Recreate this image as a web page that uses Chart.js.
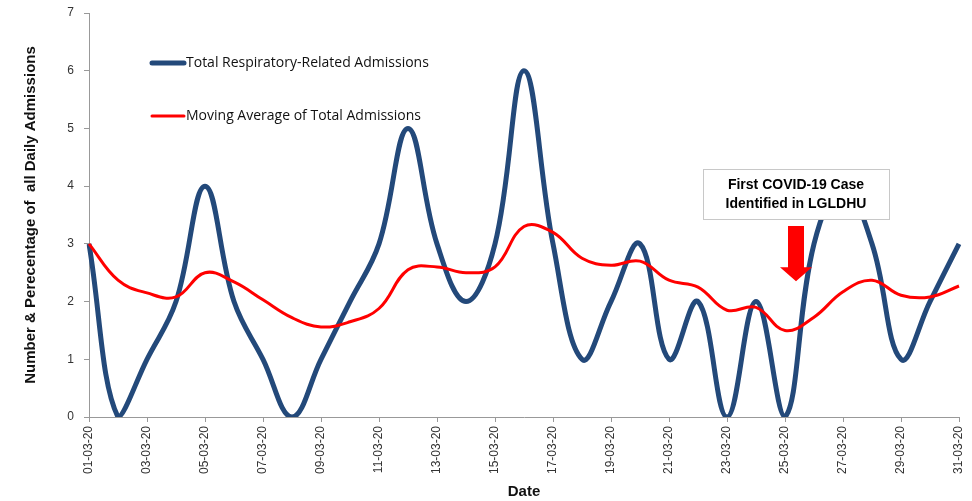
<!DOCTYPE html>
<html>
<head>
<meta charset="utf-8">
<script src="https://cdn.jsdelivr.net/npm/chart.js@4"></script>
<style>
  body { margin: 0; background: #fff; }
  #wrap { width: 972px; height: 501px; }
</style>
</head>
<body>
<div id="wrap"><canvas id="admissionsChart"></canvas></div>
<script>
// Datos del gráfico
const dates = [
    '01-03-20', '02-03-20', '03-03-20', '04-03-20', '05-03-20', '06-03-20', '07-03-20', '08-03-20',
    '09-03-20', '10-03-20', '11-03-20', '12-03-20', '13-03-20', '14-03-20', '15-03-20', '16-03-20',
    '17-03-20', '18-03-20', '19-03-20', '20-03-20', '21-03-20', '22-03-20', '23-03-20', '24-03-20',
    '25-03-20', '26-03-20', '27-03-20', '28-03-20', '29-03-20', '30-03-20', '31-03-20'
];
const totalAdmissions = [3, 0, 1, 2, 4, 2, 1, 0, 1, 2, 3, 5, 3, 2, 3, 6, 3, 1, 2, 3, 1, 2, 0, 2, 0, 3, 4, 3, 1, 2, 3];
const movingAverage = [3.0, 2.37, 2.15, 2.08, 2.5, 2.34, 2.03, 1.72, 1.56, 1.65, 1.88, 2.55, 2.6, 2.5, 2.6, 3.3,
    3.2, 2.75, 2.63, 2.7, 2.37, 2.25, 1.85, 1.9, 1.5, 1.73, 2.17, 2.37, 2.11, 2.08, 2.27];
const yTicks = [0, 1, 2, 3, 4, 5, 6, 7];
const seriesNames = ['Total Respiratory-Related Admissions', 'Moving Average of Total Admissions'];
const noteLines = ['First COVID-19 Case', 'Identified in LGLDHU'];
const noteDate = '25-03-20';

const blue = '#23497a';
const red = '#ff0000';

// Leyenda dentro del gráfico + nota con flecha
const overlay = {
    id: 'overlay',
    afterDraw(chart) {
        const ctx = chart.ctx;
        const x = chart.scales.x;
        const y = chart.scales.y;
        ctx.save();
        // leyenda
        const colors = [blue, red];
        const widths = [5, 3];
        const rows = [63, 116];
        ctx.font = '14px "Open Sans", "Liberation Sans", sans-serif';
        ctx.textBaseline = 'middle';
        rows.forEach((ry, i) => {
            ctx.strokeStyle = colors[i];
            ctx.lineWidth = widths[i];
            ctx.lineCap = 'round';
            ctx.beginPath();
            ctx.moveTo(152, ry);
            ctx.lineTo(184, ry);
            ctx.stroke();
            ctx.fillStyle = '#111';
            ctx.fillText(seriesNames[i], 186, ry);
        });
        // caja de nota
        const cx = x.getPixelForValue(dates.indexOf(noteDate)) + 11;
        const bx = 703, by = 169, bw = 186, bh = 50;
        ctx.fillStyle = '#fff';
        ctx.fillRect(bx, by, bw, bh);
        ctx.strokeStyle = '#c8c8c8';
        ctx.lineWidth = 1;
        ctx.strokeRect(bx + 0.5, by + 0.5, bw, bh);
        ctx.fillStyle = '#000';
        ctx.font = 'bold 14px "Liberation Sans", sans-serif';
        ctx.textAlign = 'center';
        ctx.fillText(noteLines[0], bx + bw / 2, by + 16);
        ctx.fillText(noteLines[1], bx + bw / 2, by + 35);
        // flecha
        const top = 226, tip = y.getPixelForValue(2.35);
        ctx.fillStyle = red;
        ctx.beginPath();
        ctx.moveTo(cx - 8, top);
        ctx.lineTo(cx + 8, top);
        ctx.lineTo(cx + 8, tip - 14);
        ctx.lineTo(cx + 16, tip - 14);
        ctx.lineTo(cx, tip);
        ctx.lineTo(cx - 16, tip - 14);
        ctx.lineTo(cx - 8, tip - 14);
        ctx.closePath();
        ctx.fill();
        ctx.restore();
    }
};

const admissionsChart = new Chart(document.getElementById('admissionsChart'), {
    type: 'line',
    data: {
        labels: dates,
        datasets: [{
            label: seriesNames[1],
            data: movingAverage,
            borderColor: red,
            borderWidth: 3,
            tension: 0.4,
            pointRadius: 0
        }, {
            label: seriesNames[0],
            data: totalAdmissions,
            borderColor: blue,
            borderWidth: 5,
            tension: 0.4,
            pointRadius: 0
        }]
    },
    options: {
        responsive: true,
        maintainAspectRatio: false,
        animation: false,
        layout: { padding: { top: 13, right: 13, left: 0, bottom: 0 } },
        plugins: {
            legend: { display: false },
            tooltip: { enabled: false }
        },
        scales: {
            x: {
                ticks: {
                    autoSkip: false,
                    minRotation: 90,
                    maxRotation: 90,
                    padding: 4,
                    color: '#333',
                    font: { family: '"Liberation Sans", Arial, sans-serif', size: 12 },
                    callback: (v, i) => i % 2 === 0 ? dates[i] : ''
                },
                grid: {
                    drawOnChartArea: false,
                    tickLength: 5,
                    tickColor: ctx => ctx.index % 2 === 0 ? '#999' : 'rgba(0,0,0,0)'
                },
                border: { color: '#999' },
                title: {
                    display: true,
                    text: 'Date',
                    color: '#111',
                    font: { family: '"Liberation Sans", sans-serif', size: 15, weight: 'bold' },
                    padding: { top: 2, bottom: 0 }
                },
                afterFit: s => { s.height = 84; s.paddingLeft = 0; s.paddingRight = 0; }
            },
            y: {
                min: yTicks[0],
                max: yTicks[yTicks.length - 1],
                ticks: {
                    stepSize: 1,
                    padding: 10,
                    color: '#333',
                    font: { family: '"Liberation Sans", Arial, sans-serif', size: 12 }
                },
                grid: { drawOnChartArea: false, tickLength: 5, tickColor: '#999' },
                border: { color: '#999' },
                title: {
                    display: true,
                    text: 'Number & Perecentage of  all Daily Admissions',
                    color: '#111',
                    font: { family: '"Liberation Sans", sans-serif', size: 15, weight: 'bold' },
                    padding: { top: 22, bottom: 0 }
                },
                afterFit: s => { s.width = 89; s.paddingTop = 0; s.paddingBottom = 0; }
            }
        }
    },
    plugins: [overlay]
});
</script>
</body>
</html>
